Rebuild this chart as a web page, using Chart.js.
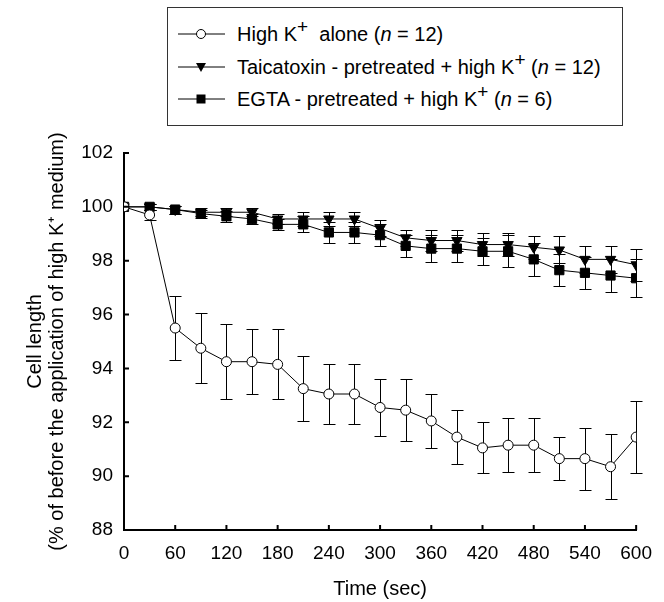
<!DOCTYPE html>
<html>
<head>
<meta charset="utf-8">
<script src="https://cdn.jsdelivr.net/npm/chart.js@4/dist/chart.umd.min.js"></script>
<style>
  html, body { margin: 0; padding: 0; background: #fff; }
  #wrap { position: relative; width: 664px; height: 602px; }
  #legend {
    position: absolute; left: 167px; top: 7px; width: 454px; height: 117px;
    border: 1px solid #333; background: #fff;
    font-family: "Liberation Sans", Arial, sans-serif; font-size: 20px; color: #000;
  }
  .row { position: absolute; left: 10px; height: 24px; display: flex; align-items: center; white-space: nowrap; }
  .row svg { margin-right: 12px; }
  sup { font-size: 19px; line-height: 0; vertical-align: 0.4em; }
</style>
</head>
<body>
<div id="wrap">
  <canvas id="chart" width="664" height="602"></canvas>
  <div id="legend">
    <div class="row" style="top:14px">
      <svg width="47" height="14"><line x1="0" y1="7" x2="47" y2="7" stroke="#000"/><circle cx="23" cy="7" r="4.5" fill="#fff" stroke="#000"/></svg>
      <span>High K<sup>+</sup>&nbsp; alone (<i>n</i> = 12)</span>
    </div>
    <div class="row" style="top:47px">
      <svg width="47" height="14"><line x1="0" y1="7" x2="47" y2="7" stroke="#000"/><polygon points="18,3 28,3 23,12" fill="#000"/></svg>
      <span>Taicatoxin - pretreated + high K<sup>+</sup> (<i>n</i> = 12)</span>
    </div>
    <div class="row" style="top:79px">
      <svg width="47" height="14"><line x1="0" y1="7" x2="47" y2="7" stroke="#000"/><rect x="18.5" y="2.5" width="9" height="9" fill="#000"/></svg>
      <span>EGTA - pretreated + high K<sup>+</sup> (<i>n</i> = 6)</span>
    </div>
  </div>
</div>
<script>
// time points (sec)
var times = [0, 30, 60, 90, 120, 150, 180, 210, 240, 270, 300, 330, 360, 390, 420, 450, 480, 510, 540, 570, 600];

// High K+ alone
var highK = [100, 99.7, 95.5, 94.75, 94.25, 94.25, 94.15, 93.25, 93.05, 93.05, 92.55, 92.45, 92.05, 91.45, 91.05, 91.15, 91.15, 90.65, 90.65, 90.35, 91.45];
var highKErr = [0, 0.2, 1.2, 1.3, 1.4, 1.2, 1.3, 1.2, 1.1, 1.1, 1.05, 1.15, 1.0, 1.0, 0.95, 1.0, 1.0, 0.8, 1.15, 1.2, 1.35];

// Taicatoxin-pretreated + high K+
var taica = [100, 100, 99.9, 99.8, 99.8, 99.8, 99.55, 99.55, 99.55, 99.55, 99.2, 98.85, 98.75, 98.75, 98.6, 98.6, 98.5, 98.4, 98.05, 98.05, 97.85];
var taicaErr = [0, 0.1, 0.15, 0.15, 0.15, 0.15, 0.2, 0.25, 0.25, 0.25, 0.3, 0.3, 0.4, 0.4, 0.43, 0.43, 0.42, 0.5, 0.5, 0.5, 0.6];

// EGTA-pretreated + high K+
var egta = [100, 100, 99.9, 99.75, 99.65, 99.55, 99.35, 99.35, 99.05, 99.05, 98.95, 98.55, 98.45, 98.45, 98.35, 98.35, 98.05, 97.65, 97.55, 97.45, 97.35];
var egtaErr = [0, 0.1, 0.15, 0.15, 0.2, 0.2, 0.2, 0.3, 0.4, 0.4, 0.4, 0.4, 0.5, 0.5, 0.5, 0.6, 0.6, 0.6, 0.6, 0.6, 0.7];

var xTicks = [0, 60, 120, 180, 240, 300, 360, 420, 480, 540, 600];
var yTicks = [88, 90, 92, 94, 96, 98, 100, 102];

function pts(vals) {
    return vals.map(function (v, i) { return { x: times[i], y: v }; });
}

// error bars, drawn under the markers
var errorBars = {
    id: 'errorBars',
    beforeDatasetsDraw: function (chart) {
        var ctx = chart.ctx;
        var xs = chart.scales.x, ys = chart.scales.y;
        ctx.save();
        ctx.strokeStyle = '#000';
        ctx.lineWidth = 1;
        chart.data.datasets.forEach(function (ds) {
            ds.data.forEach(function (p, i) {
                var e = ds.errors[i];
                if (!e) return;
                var x = Math.round(xs.getPixelForValue(p.x)) + 0.5;
                var yt = Math.round(ys.getPixelForValue(p.y + e)) + 0.5;
                var yb = Math.round(ys.getPixelForValue(p.y - e)) + 0.5;
                ctx.beginPath();
                ctx.moveTo(x, yt); ctx.lineTo(x, yb);
                ctx.moveTo(x - 6, yt); ctx.lineTo(x + 6, yt);
                ctx.moveTo(x - 6, yb); ctx.lineTo(x + 6, yb);
                ctx.stroke();
            });
        });
        ctx.restore();
    }
};

// inward tick marks
var innerTicks = {
    id: 'innerTicks',
    afterDraw: function (chart) {
        var ctx = chart.ctx;
        var xs = chart.scales.x, ys = chart.scales.y;
        ctx.save();
        ctx.strokeStyle = '#000';
        ctx.lineWidth = 2;
        ctx.beginPath();
        xTicks.forEach(function (t) {
            if (t === 0) return;
            var x = xs.getPixelForValue(t);
            ctx.moveTo(x, ys.bottom); ctx.lineTo(x, ys.bottom - 5);
        });
        yTicks.forEach(function (t) {
            if (t === 88) return;
            var y = ys.getPixelForValue(t);
            ctx.moveTo(xs.left, y); ctx.lineTo(xs.left + 5, y);
        });
        ctx.stroke();
        ctx.restore();
    }
};

var font = "'Liberation Sans', Arial, sans-serif";

new Chart(document.getElementById('chart'), {
    type: 'line',
    data: {
        datasets: [{
            label: 'High K+ alone (n = 12)',
            data: pts(highK),
            errors: highKErr,
            borderColor: '#000',
            borderWidth: 1,
            pointStyle: 'circle',
            pointRadius: 5,
            pointBackgroundColor: '#fff',
            pointBorderColor: '#000',
            pointBorderWidth: 1
        }, {
            label: 'Taicatoxin - pretreated + high K+ (n = 12)',
            data: pts(taica),
            errors: taicaErr,
            borderColor: '#000',
            borderWidth: 1,
            pointStyle: 'triangle',
            pointRotation: 180,
            pointRadius: 6,
            pointBackgroundColor: '#000',
            pointBorderColor: '#000',
            pointBorderWidth: 1
        }, {
            label: 'EGTA - pretreated + high K+ (n = 6)',
            data: pts(egta),
            errors: egtaErr,
            borderColor: '#000',
            borderWidth: 1,
            pointStyle: 'rect',
            pointRadius: 6.5,
            pointBackgroundColor: '#000',
            pointBorderColor: '#000',
            pointBorderWidth: 1
        }]
    },
    options: {
        responsive: false,
        animation: false,
        events: [],
        layout: { padding: { left: 24, top: 153, right: 18, bottom: 2 } },
        plugins: { legend: { display: false }, tooltip: { enabled: false } },
        scales: {
            x: {
                type: 'linear',
                min: 0, max: 600,
                afterFit: function (s) { s.height = 70; },
                afterBuildTicks: function (s) { s.ticks = xTicks.map(function (v) { return { value: v }; }); },
                grid: { display: false, drawTicks: false },
                border: { display: true, color: '#000', width: 2 },
                ticks: { color: '#000', padding: 12, maxRotation: 0, autoSkip: false, font: { family: font, size: 19 } },
                title: { display: true, text: 'Time (sec)', color: '#000', padding: 0, font: { family: font, size: 20, lineHeight: 1.1 } }
            },
            y: {
                min: 88, max: 102,
                afterFit: function (s) { s.width = 100; },
                afterBuildTicks: function (s) { s.ticks = yTicks.map(function (v) { return { value: v }; }); },
                grid: { display: false, drawTicks: false },
                border: { display: true, color: '#000', width: 2 },
                ticks: { color: '#000', padding: 11, font: { family: font, size: 19 } },
                title: {
                    display: true,
                    text: ['Cell length', '(% of before the application of high K\u207A medium)'],
                    color: '#000', padding: 0,
                    font: { family: font, size: 20, lineHeight: 1.1 }
                }
            }
        }
    },
    plugins: [errorBars, innerTicks]
});
</script>
</body>
</html>
